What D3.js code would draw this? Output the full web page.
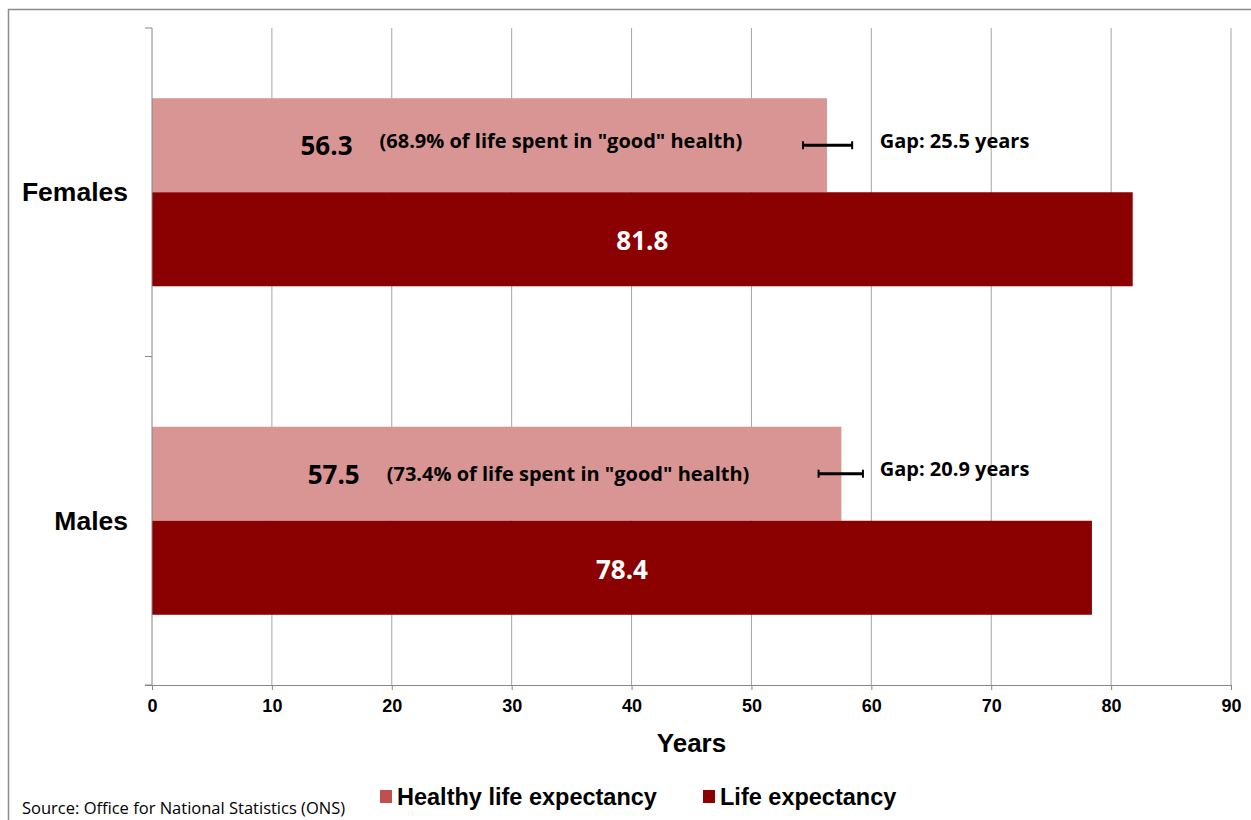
<!DOCTYPE html>
<html lang="en">
<head>
<meta charset="UTF-8">
<title>Healthy life expectancy vs life expectancy</title>
<script src="https://cdn.jsdelivr.net/npm/d3@7"></script>
<style>
  body { margin: 0; background: #fff; }
  svg { display: block; }
  .lbl { font-family: "Open Sans", Lato, sans-serif; font-weight: bold; }
  .ax { font-family: "Liberation Sans", Arial, sans-serif; font-weight: bold; }
</style>
</head>
<body>
<svg width="1251" height="820"></svg>
<script>
const categories = ['Females', 'Males'];
const healthy = [56.3, 57.5];
const life = [81.8, 78.4];
const pctGood = ['68.9%', '73.4%'];
const ciLow = [54.3, 55.6];
const ciHigh = [58.4, 59.3];
const gaps = [25.5, 20.9];
const xTicks = [0, 10, 20, 30, 40, 50, 60, 70, 80, 90];
const seriesNames = ['Healthy life expectancy', 'Life expectancy'];

const barColor = ['#D99594', '#8B0000'];
const swatchColor = ['#C0504D', '#8B0000'];

const svg = d3.select('svg');

// outer frame
svg.append('rect')
  .attr('x', 8.5).attr('y', 9.5)
  .attr('width', 1300).attr('height', 900)
  .attr('fill', 'none').attr('stroke', '#8c8c8c').attr('stroke-width', 1.5);

const x = d3.scaleLinear().domain([0, 90]).range([152, 1231]);
const y = d3.scaleBand().domain(categories).range([28, 685]);
const ySub = d3.scaleBand().domain([0, 1]).range([0, y.bandwidth()]).paddingOuter(0.747);

// gridlines
svg.append('g').selectAll('line')
  .data(xTicks.slice(1))
  .join('line')
  .attr('x1', d => x(d)).attr('x2', d => x(d))
  .attr('y1', 28).attr('y2', 685)
  .attr('stroke', '#a6a6a6').attr('stroke-width', 1);

// bars
const rows = categories.map((c, i) => ({ c, i, vals: [healthy[i], life[i]] }));
const grp = svg.append('g').selectAll('g')
  .data(rows)
  .join('g')
  .attr('transform', d => `translate(0,${y(d.c)})`);

grp.selectAll('rect')
  .data(d => d.vals.map((v, k) => ({ v, k })))
  .join('rect')
  .attr('x', x(0))
  .attr('y', d => ySub(d.k))
  .attr('width', d => x(d.v) - x(0))
  .attr('height', ySub.bandwidth())
  .attr('fill', d => barColor[d.k]);

// axes
const yAxis = svg.append('g').attr('transform', `translate(${x(0)},0)`);
yAxis.append('line').attr('y1', 28).attr('y2', 685).attr('stroke', '#868686');
yAxis.selectAll('.tk')
  .data([28, y('Males'), 685])
  .join('line')
  .attr('x1', -7).attr('x2', 0)
  .attr('y1', d => d).attr('y2', d => d)
  .attr('stroke', '#868686');
yAxis.selectAll('text')
  .data(categories)
  .join('text')
  .attr('class', 'ax')
  .attr('x', -24)
  .attr('y', d => y(d) + y.bandwidth() / 2 + 9)
  .attr('text-anchor', 'end')
  .attr('font-size', 26.5)
  .text(d => d);

const xAxis = svg.append('g')
  .attr('transform', 'translate(0,685)')
  .call(d3.axisBottom(x).tickValues(xTicks).tickSize(5).tickPadding(9));
xAxis.select('.domain').attr('stroke', '#868686').attr('d', `M${x(0) - 7},0.5H${x(90)}`);
xAxis.selectAll('.tick line').attr('stroke', '#868686');
xAxis.selectAll('.tick text')
  .attr('class', 'ax').attr('font-size', 18).attr('fill', '#000');

svg.append('text')
  .attr('class', 'ax')
  .attr('x', x(45)).attr('y', 752)
  .attr('text-anchor', 'middle')
  .attr('font-size', 26)
  .text('Years');

// labels on bars
grp.append('text')
  .attr('class', 'lbl')
  .attr('x', d => x(healthy[d.i] / 2) - 189)
  .attr('y', ySub(0) + ySub.bandwidth() / 2 + 10)
  .attr('font-size', 26)
  .attr('fill', '#000')
  .text(d => healthy[d.i].toFixed(1));

grp.append('text')
  .attr('class', 'lbl')
  .attr('x', d => x(healthy[d.i] / 2) - 110)
  .attr('y', d => ySub(0) + ySub.bandwidth() / 2 + (d.i === 0 ? 3 : 7))
  .attr('font-size', 20)
  .attr('fill', '#000')
  .text(d => `(${pctGood[d.i]} of life spent in "good" health)`);

grp.append('text')
  .attr('class', 'lbl')
  .attr('x', d => x(life[d.i] / 2))
  .attr('y', ySub(1) + ySub.bandwidth() / 2 + 11)
  .attr('text-anchor', 'middle')
  .attr('font-size', 26)
  .attr('fill', '#fff')
  .text(d => life[d.i].toFixed(1));

// error bars
const eb = grp.append('g')
  .attr('stroke', '#000').attr('stroke-width', 3);
eb.append('line')
  .attr('x1', d => x(ciLow[d.i])).attr('x2', d => x(ciHigh[d.i]))
  .attr('y1', ySub(0) + ySub.bandwidth() / 2)
  .attr('y2', ySub(0) + ySub.bandwidth() / 2);
eb.selectAll('.cap')
  .data(d => [ciLow[d.i], ciHigh[d.i]])
  .join('line')
  .attr('x1', d => x(d)).attr('x2', d => x(d))
  .attr('y1', ySub(0) + ySub.bandwidth() / 2 - 4)
  .attr('y2', ySub(0) + ySub.bandwidth() / 2 + 4)
  .attr('stroke-width', 2);

grp.append('text')
  .attr('class', 'lbl')
  .attr('x', x(60.7))
  .attr('y', d => ySub(0) + ySub.bandwidth() / 2 + (d.i === 0 ? 3 : 2))
  .attr('font-size', 20)
  .attr('fill', '#000')
  .text(d => `Gap: ${gaps[d.i]} years`);

// legend
const legX = [380, 703];
const leg = svg.append('g').selectAll('g')
  .data(seriesNames)
  .join('g')
  .attr('transform', (d, i) => `translate(${legX[i]},790)`);
leg.append('rect')
  .attr('width', 12).attr('height', 13)
  .attr('fill', (d, i) => swatchColor[i]);
leg.append('text')
  .attr('class', 'ax')
  .attr('x', 17).attr('y', 15)
  .attr('font-size', 23.5)
  .text(d => d);

svg.append('text')
  .attr('x', 22).attr('y', 814)
  .attr('font-family', '"Open Sans", Lato, sans-serif')
  .attr('font-size', 16.5)
  .text('Source: Office for National Statistics (ONS)');
</script>
</body>
</html>
